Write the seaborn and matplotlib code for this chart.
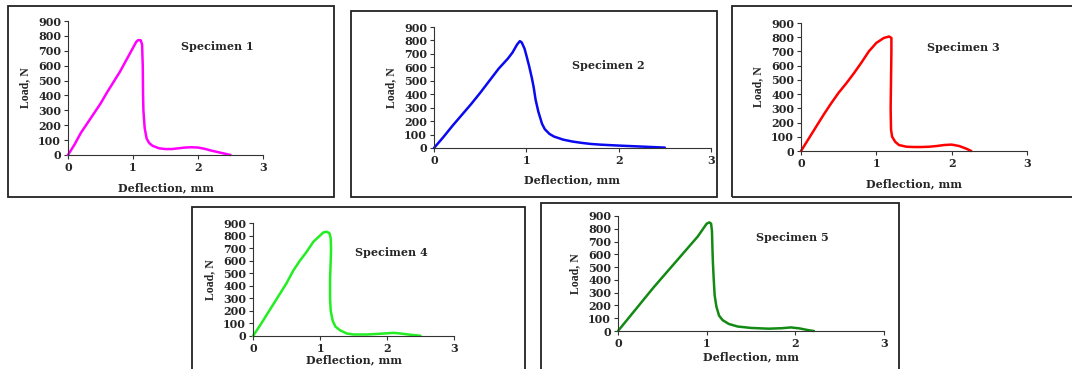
import matplotlib
matplotlib.use("Agg")
import matplotlib.pyplot as plt
import pandas as pd
import seaborn as sns
from matplotlib.patches import Rectangle

# load-deflection curves (deflection mm, load N)
spec1_x = [0, 0.1, 0.2, 0.3, 0.4, 0.5, 0.6, 0.7, 0.8, 0.9, 1.0, 1.05, 1.08, 1.12, 1.14, 1.15, 1.155, 1.16, 1.18, 1.21,
           1.25, 1.3, 1.4, 1.5, 1.6, 1.7, 1.8, 1.9, 2.0, 2.1, 2.2, 2.3, 2.4, 2.5]
spec1_y = [0, 70, 150, 215, 280, 345, 420, 490, 560, 640, 720, 760, 772, 770, 740, 600, 400, 300, 180, 110,
           80, 62, 45, 40, 40, 45, 50, 52, 50, 42, 30, 20, 10, 0]

spec2_x = [0, 0.1, 0.2, 0.3, 0.4, 0.5, 0.6, 0.7, 0.8, 0.85, 0.9, 0.93, 0.95, 0.98, 1.0, 1.03, 1.06, 1.08, 1.1, 1.13,
           1.17, 1.2, 1.25, 1.3, 1.4, 1.5, 1.6, 1.7, 1.8, 2.0, 2.2, 2.4, 2.5]
spec2_y = [0, 80, 165, 245, 325, 410, 500, 590, 665, 710, 770, 795, 785, 740, 690, 610, 520, 450, 360, 270,
           180, 140, 105, 85, 62, 48, 38, 30, 25, 18, 12, 6, 3]

spec3_x = [0, 0.1, 0.2, 0.3, 0.4, 0.5, 0.6, 0.7, 0.8, 0.9, 1.0, 1.1, 1.17, 1.2, 1.2, 1.195, 1.19, 1.195, 1.21, 1.25,
           1.3, 1.4, 1.5, 1.6, 1.7, 1.8, 1.9, 2.0, 2.1, 2.2, 2.26]
spec3_y = [0, 85, 170, 255, 335, 410, 475, 545, 620, 700, 760, 795, 805, 795, 700, 500, 300, 150, 100, 65,
           42, 30, 28, 28, 30, 35, 42, 45, 35, 15, 0]

spec4_x = [0, 0.1, 0.2, 0.3, 0.4, 0.5, 0.6, 0.7, 0.8, 0.9, 1.0, 1.05, 1.1, 1.14, 1.16, 1.165, 1.16, 1.15, 1.15, 1.16,
           1.19, 1.23, 1.3, 1.4, 1.5, 1.7, 1.9, 2.1, 2.2, 2.35, 2.5]
spec4_y = [0, 80, 165, 250, 335, 420, 520, 600, 670, 750, 800, 825, 830, 820, 780, 690, 600, 450, 300, 200,
           120, 75, 45, 20, 12, 12, 18, 25, 20, 10, 2]

spec5_x = [0, 0.1, 0.2, 0.3, 0.4, 0.5, 0.6, 0.7, 0.8, 0.9, 0.95, 1.0, 1.03, 1.05, 1.06, 1.065, 1.07, 1.08, 1.09, 1.11,
           1.14, 1.18, 1.25, 1.35, 1.5, 1.7, 1.85, 1.95, 2.05, 2.15, 2.21]
spec5_y = [0, 85, 170, 255, 340, 420, 500, 580, 660, 740, 790, 840, 850, 840, 780, 650, 540, 400, 280, 190,
           120, 85, 55, 35, 24, 18, 22, 28, 20, 6, 0]

names = ["Specimen 1", "Specimen 2", "Specimen 3", "Specimen 4", "Specimen 5"]
colors = ["#ff00ff", "#0a0af0", "#ff0000", "#22ee22", "#138a13"]
curves = [(spec1_x, spec1_y), (spec2_x, spec2_y), (spec3_x, spec3_y), (spec4_x, spec4_y), (spec5_x, spec5_y)]

W, H = 1072, 369
# pixel boxes: frame (x0, y0, x1, y1), axes (left, top, right, bottom), label pos in data coords
frames = [(8, 6, 334, 197), (351, 11, 717, 197), (732, 6, 1080, 197), (192, 207, 525, 375), (541, 203, 899, 375)]
axboxes = [(68, 21, 263, 155), (434, 27, 711, 148), (801, 23, 1027, 151), (253, 223, 454, 336), (618, 216, 884, 331)]
label_pos = [(2.3, 730), (1.885, 610), (2.15, 731), (2.07, 669), (1.97, 728)]
xpads = [7, 6, 7, 0.5, 1.5]

sns.set_style("ticks")
plt.rcParams['font.family'] = ['DejaVu Serif']

fig = plt.figure(figsize=(W / 100, H / 100), dpi=100)

for i in range(5):
    fx0, fy0, fx1, fy1 = frames[i]
    fig.patches.append(Rectangle((fx0 / W, 1 - fy1 / H), (fx1 - fx0) / W, (fy1 - fy0) / H,
                                 transform=fig.transFigure, fill=False, lw=1.3, ec="#222222"))
    l, t, r, b = axboxes[i]
    ax = fig.add_axes([l / W, 1 - b / H, (r - l) / W, (b - t) / H])
    df = pd.DataFrame({"Deflection": curves[i][0], "Load": curves[i][1]})
    sns.lineplot(data=df, x="Deflection", y="Load", sort=False, estimator=None, color=colors[i],
                 lw=1.8, ax=ax, clip_on=False)
    ax.set_xlim(0, 3)
    ax.set_ylim(0, 900)
    ax.set_xticks([0, 1, 2, 3])
    ax.set_yticks(range(0, 901, 100))
    ax.patch.set_alpha(0)
    sns.despine(ax=ax)
    for s in ["left", "bottom"]:
        ax.spines[s].set_linewidth(0.8)
        ax.spines[s].set_color("#333333")
    ax.tick_params(length=3, width=0.8, color="#333333", labelsize=8, pad=2)
    for lab in ax.get_xticklabels() + ax.get_yticklabels():
        lab.set_fontweight("bold")
    ax.set_xlabel("Deflection, mm", fontsize=8, fontweight="bold", labelpad=xpads[i])
    ax.set_ylabel("Load, N", fontsize=8.5, fontweight="bold", family=["Liberation Serif"], labelpad=5)
    ax.text(label_pos[i][0], label_pos[i][1], names[i], fontsize=8, fontweight="bold",
            ha="center", va="center")

fig.savefig("out.png", dpi=100)
